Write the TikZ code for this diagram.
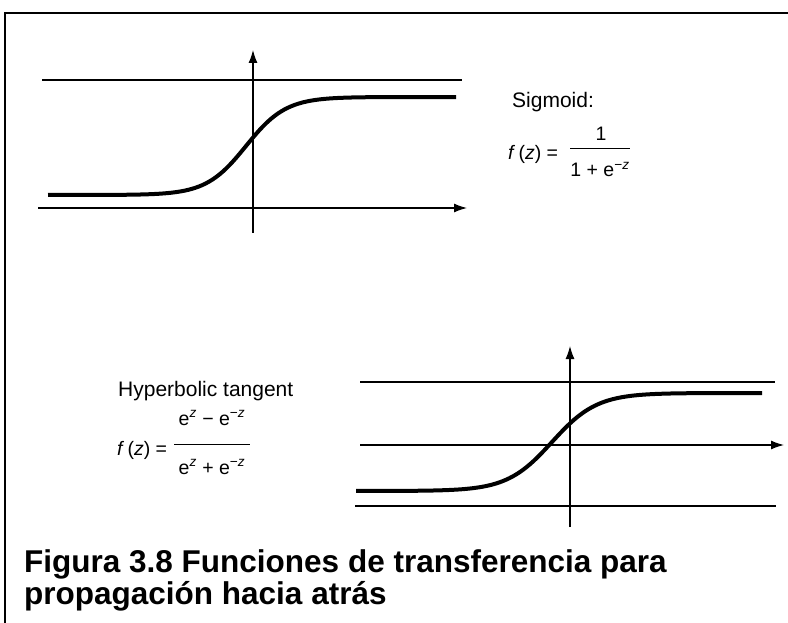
\documentclass[tikz,border=0pt]{standalone}
\usepackage{fontspec}
\setmainfont{Liberation Sans}
\usetikzlibrary{arrows.meta}
\begin{document}
\begin{tikzpicture}[x=1pt,y=-1pt,
  thin line/.style={line width=1.2pt},
  axis/.style={line width=1.2pt,-{Latex[length=13pt,width=9pt]}},
  curve/.style={line width=4pt},
  lbl/.style={inner sep=0pt,anchor=base west,font=\fontsize{21}{24}\selectfont},
  frm/.style={inner sep=0pt,anchor=base,font=\fontsize{19.5}{22}\selectfont},
  captext/.style={inner sep=0pt,anchor=base west,font=\fontsize{31.5}{36}\selectfont\bfseries}]
\useasboundingbox (0,0) rectangle (788,623);
% frame
\coordinate (fa) at (5,623);
\coordinate (fb) at (5,13);
\coordinate (fc) at (788,13);
\draw[line width=2pt] (fa) -- (fb) -- (fc);
% top plot
\coordinate (t1) at (42,80); \coordinate (t2) at (462,80);
\draw[thin line] (t1) -- (t2);
\coordinate (ax0) at (38,208); \coordinate (ax1) at (467,208);
\draw[axis] (ax0) -- (ax1);
\coordinate (ay0) at (253,233); \coordinate (ay1) at (253,50);
\draw[axis] (ay0) -- (ay1);
\draw[curve] plot[domain=48:456,samples=120] (\x,{146-49*tanh((\x-246)/40)});
\node[lbl] (sig) at (512,108) {Sigmoid:};
\node[frm,anchor=base west] (sf) at (508,160) {\textit{f}\,(\textit{z}) =};
\node[frm] (sn) at (601,141) {1};
\node[frm] (sd) at (600,177) {1 + e\textsuperscript{−\textit{z}}};
\draw[line width=0.6pt] (570,148) -- (630,148);
% bottom plot
\coordinate (b1) at (360,382); \coordinate (b2) at (775,382);
\draw[thin line] (b1) -- (b2);
\coordinate (bx0) at (360,445); \coordinate (bx1) at (784,445);
\draw[axis] (bx0) -- (bx1);
\coordinate (b3) at (355,506); \coordinate (b4) at (776,506);
\draw[thin line] (b3) -- (b4);
\coordinate (by0) at (570,527); \coordinate (by1) at (570,346);
\draw[axis] (by0) -- (by1);
\draw[curve] plot[domain=356:762,samples=120] (\x,{442-49*tanh((\x-552)/45)});
\node[lbl] (hyp) at (118,396) {Hyperbolic tangent};
\node[frm,anchor=base west] (hf) at (117,455) {\textit{f}\,(\textit{z}) =};
\node[frm] (hn) at (212,425) {e\textsuperscript{\textit{z}} − e\textsuperscript{−\textit{z}}};
\node[frm] (hd) at (212,474) {e\textsuperscript{\textit{z}} + e\textsuperscript{−\textit{z}}};
\draw[line width=0.6pt] (174,444) -- (250,444);
% caption
\node[captext] (c1) at (24,572) {Figura 3.8 Funciones de transferencia para};
\node[captext] (c2) at (24,604) {propagación hacia atrás};
\end{tikzpicture}
\end{document}
